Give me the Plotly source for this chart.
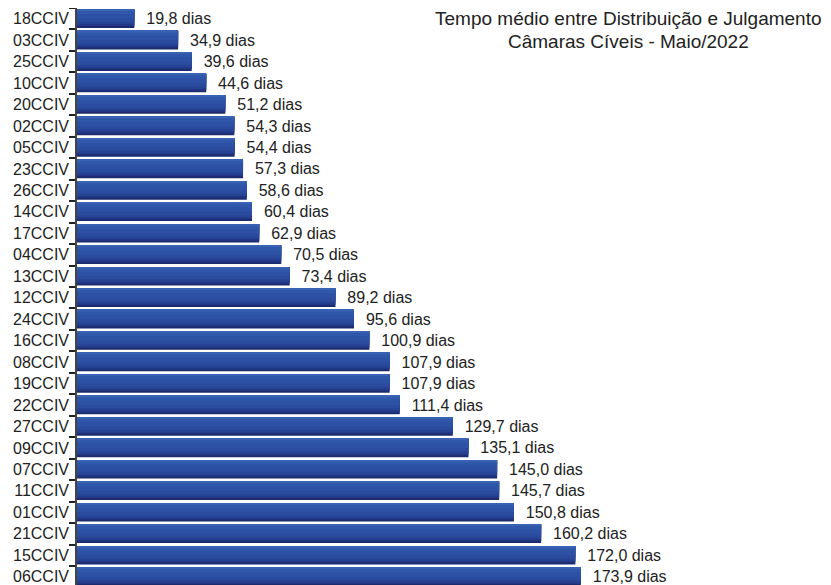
import plotly.graph_objects as go

camaras = ["18CCIV", "03CCIV", "25CCIV", "10CCIV", "20CCIV", "02CCIV", "05CCIV", "23CCIV", "26CCIV",
           "14CCIV", "17CCIV", "04CCIV", "13CCIV", "12CCIV", "24CCIV", "16CCIV", "08CCIV", "19CCIV",
           "22CCIV", "27CCIV", "09CCIV", "07CCIV", "11CCIV", "01CCIV", "21CCIV", "15CCIV", "06CCIV"]
dias = [19.8, 34.9, 39.6, 44.6, 51.2, 54.3, 54.4, 57.3, 58.6,
        60.4, 62.9, 70.5, 73.4, 89.2, 95.6, 100.9, 107.9, 107.9,
        111.4, 129.7, 135.1, 145.0, 145.7, 150.8, 160.2, 172.0, 173.9]
titulo_linhas = ["Tempo médio entre Distribuição e Julgamento", "Câmaras Cíveis - Maio/2022"]

fig = go.Figure()

# gradient layers: (fraction of bar from top, color)
barw = 0.86
layers = [(1.0, "#1c2b6e"), (0.9, "#223786"), (0.8, "#274394"), (0.68, "#2a4b9e"),
          (0.5, "#2d52a5"), (0.25, "#3058aa"), (0.08, "#3a62b4")]
for i, (f, col) in enumerate(layers):
    first = i == 0
    fig.add_trace(go.Bar(
        y=camaras, x=dias, orientation="h",
        width=barw * f, offset=-barw / 2,
        marker=dict(color=col, line=dict(width=0)),
        text=[f"{v:.1f}".replace(".", ",") + " dias" for v in dias] if first else None,
        texttemplate="\u00a0\u00a0%{text}" if first else None,
        textposition="outside" if first else "none",
        textfont=dict(family="Liberation Sans, Arial, sans-serif", size=16, color="#222222"),
        cliponaxis=False,
        hoverinfo="skip" if not first else "x+y",
        showlegend=False,
    ))

for linha, dy in zip(titulo_linhas, [-10, -33]):
    fig.add_annotation(text=linha, xref="paper", yref="paper", x=0.7231, y=1,
                       xanchor="center", yanchor="middle", yshift=dy, showarrow=False,
                       align="center", font=dict(size=19, color="#222222"))

fig.update_layout(
    width=831, height=585,
    barmode="overlay",
    separators=",.",
    paper_bgcolor="white", plot_bgcolor="white",
    margin=dict(l=69, r=0, t=0, b=0),
    font=dict(family="Liberation Sans, Arial, sans-serif", size=16, color="#222222"),
    xaxis=dict(range=[0, 263], visible=False, showgrid=False, zeroline=False, automargin=False),
    yaxis=dict(type="category", categoryorder="array", categoryarray=camaras,
               range=[26.76, -0.5], showline=True, linecolor="#444444", linewidth=1.5,
               ticks="outside", tickson="boundaries", ticklen=6, tickcolor="#222222",
               tickwidth=1.5, showgrid=False, automargin=False, ticklabelstandoff=3,
               tickfont=dict(size=16, color="#222222")),
)

fig.write_html("out.html")
